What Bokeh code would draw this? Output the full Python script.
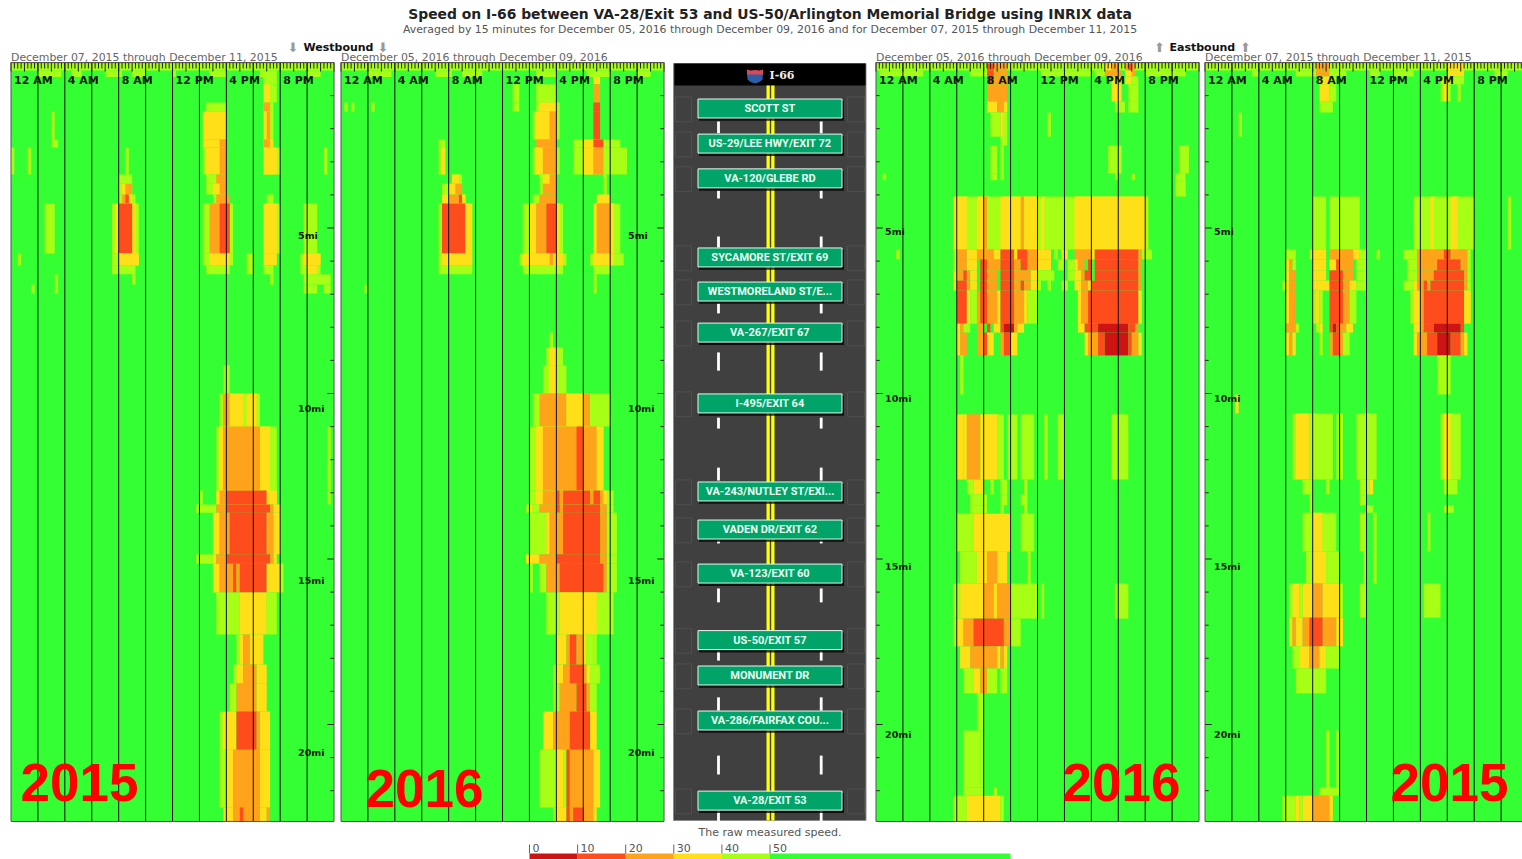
from bokeh.plotting import figure
from bokeh.models import Range1d
from bokeh.core.properties import value
from bokeh.embed import file_html
from bokeh.resources import INLINE

TITLE = "Speed on I-66 between VA-28/Exit 53 and US-50/Arlington Memorial Bridge using INRIX data"
SUBTITLE = "Averaged by 15 minutes for December 05, 2016 through December 09, 2016 and for December 07, 2015 through December 11, 2015"
HOUR_LABELS = ["12 AM", "4 AM", "8 AM", "12 PM", "4 PM", "8 PM"]
HOUR_LABEL_QUARTERS = [0, 16, 32, 48, 64, 80]
MILE_LABELS = ["5mi", "10mi", "15mi", "20mi"]
MILE_VALUES = [5, 10, 15, 20]
SIGN_NAMES = ["SCOTT ST", "US-29/LEE HWY/EXIT 72", "VA-120/GLEBE RD", "SYCAMORE ST/EXIT 69",
              "WESTMORELAND ST/E...", "VA-267/EXIT 67", "I-495/EXIT 64", "VA-243/NUTLEY ST/EXI...",
              "VADEN DR/EXIT 62", "VA-123/EXIT 60", "US-50/EXIT 57", "MONUMENT DR",
              "VA-286/FAIRFAX COU...", "VA-28/EXIT 53"]
SIGN_MILES = [1.39, 2.45, 3.50, 5.89, 6.92, 8.16, 10.30, 12.96, 14.11, 15.44, 17.45, 18.52, 19.88, 22.30]
DASH_MILES = [(1.78, 2.14), (3.87, 4.11), (5.26, 5.59), (7.28, 7.58), (8.76, 9.31), (10.73, 11.06),
              (12.24, 12.63), (14.44, 14.53), (15.89, 16.31), (17.79, 18.07), (19.18, 19.58),
              (20.94, 21.51), (22.60, 22.93)]
LEGEND_EDGES = [0, 10, 20, 30, 40, 50]
LEGEND_END = 100

# speed classes (mph, class mid-values)
YG, YE, OR, RD, DK = 45, 35, 25, 15, 5

# rows: (mile from, mile to, [(first quarter-hour, last quarter-hour, speed), ...])
wb2015 = [
    (0.03, 0.24, [(0, 96, YG)]),
    (0.24, 0.44, [(8, 15, YG), (18, 21, YG), (28, 33, YG), (36, 40, YG), (48, 49, YG), (59, 64, YG), (74, 79, YG), (88, 92, YG)]),
    (0.44, 0.66, [(75, 79, YG)]),
    (0.66, 1.21, [(75, 79, YG), (75, 77, YE)]),
    (1.21, 1.48, [(58, 64, YG), (75, 78, YG), (75, 77, OR)]),
    (1.48, 2.33, [(12, 13, YG), (57, 64, YE), (75, 78, YG), (75, 77, YE), (76, 77, OR)]),
    (2.33, 2.57, [(12, 14, YG), (57, 64, YE), (62, 64, OR), (75, 78, YE), (75, 77, OR)]),
    (2.57, 3.38, [(0, 1, YG), (5, 6, YG), (34, 35, YG), (57, 59, YG), (58, 64, YE), (62, 64, OR), (75, 80, YG), (75, 79, YE), (93, 94, YG)]),
    (3.38, 3.66, [(32, 36, YG), (58, 62, YG), (61, 64, OR)]),
    (3.66, 3.99, [(32, 36, YG), (33, 36, YE), (34, 36, OR), (58, 62, YG), (60, 64, YE), (62, 64, OR)]),
    (3.99, 4.26, [(32, 37, YG), (33, 36, YE), (33, 35, OR), (34, 35, RD), (60, 62, YG), (61, 65, OR), (76, 78, YG)]),
    (4.26, 5.77, [(10, 13, YG), (30, 38, YG), (31, 37, YE), (32, 36, RD), (57, 66, YG), (59, 65, OR), (62, 65, RD), (75, 80, YG), (75, 79, YE), (87, 91, YG)]),
    (5.77, 6.13, [(2, 3, YG), (30, 38, YG), (32, 38, YE), (57, 66, YG), (59, 65, YE), (70, 72, YG), (75, 79, YE), (86, 92, YG), (87, 92, YE)]),
    (6.13, 6.40, [(30, 37, YG), (58, 65, YG), (70, 72, YG), (75, 78, YG), (86, 92, YG), (88, 91, YE)]),
    (6.40, 6.71, [(13, 14, YG), (36, 37, YG), (77, 78, YG), (87, 95, YG)]),
    (6.71, 6.98, [(6, 7, YG), (13, 14, YG), (87, 91, YG), (93, 95, YG)]),
    (9.15, 10.00, [(63, 65, YG)]),
    (10.00, 11.00, [(62, 74, YG), (63, 65, OR), (65, 69, YE), (70, 73, YE)]),
    (11.00, 12.93, [(61, 79, YG), (62, 77, YE), (63, 74, OR), (94, 95, YG)]),
    (12.93, 13.35, [(56, 57, YG), (61, 79, YG), (61, 77, YE), (62, 64, OR), (64, 76, RD), (76, 79, YE), (94, 95, YG)]),
    (13.35, 13.60, [(55, 61, YG), (61, 64, OR), (64, 77, RD), (77, 78, OR), (78, 80, YE)]),
    (13.60, 14.86, [(60, 62, YE), (62, 65, OR), (65, 76, RD), (76, 78, OR), (78, 80, YE)]),
    (14.86, 15.14, [(55, 60, YG), (60, 61, YE), (61, 64, OR), (64, 77, RD), (77, 78, OR), (78, 79, YE)]),
    (15.14, 16.01, [(60, 62, YE), (62, 66, OR), (66, 67, RD), (67, 68, OR), (68, 76, RD), (76, 80, YE), (80, 81, YG)]),
    (16.01, 17.28, [(61, 68, YG), (68, 76, YE), (76, 79, YG)]),
    (17.28, 18.19, [(67, 68, YG), (68, 69, YE), (69, 71, OR), (71, 75, YE)]),
    (18.19, 18.76, [(66, 67, YG), (67, 69, YE), (69, 73, OR), (73, 76, YE)]),
    (18.76, 19.61, [(65, 67, YG), (67, 73, OR), (73, 76, YE)]),
    (19.61, 20.76, [(62, 63, YG), (63, 67, YE), (67, 73, RD), (73, 74, OR), (74, 77, YE)]),
    (20.76, 22.51, [(62, 64, YG), (64, 66, YE), (66, 74, OR), (74, 77, YE)]),
    (22.51, 22.93, [(63, 66, YE), (66, 74, OR), (68, 69, RD), (74, 76, YE), (76, 77, OR)]),
]

wb2016 = [
    (0.03, 0.24, [(0, 96, YG)]),
    (0.24, 0.44, [(8, 15, YG), (28, 33, YG), (36, 42, YG), (58, 64, YG), (73, 80, YG), (88, 92, YG)]),
    (0.44, 0.66, [(75, 77, YE)]),
    (0.66, 1.21, [(51, 53, YG), (58, 64, YG), (75, 77, OR)]),
    (1.21, 1.48, [(1, 2, YG), (3, 4, YG), (9, 10, YG), (51, 53, YG), (58, 65, YG), (59, 64, YE), (75, 77, RD)]),
    (1.48, 2.33, [(57, 65, YG), (58, 62, YE), (62, 64, OR), (75, 77, RD)]),
    (2.33, 2.57, [(29, 31, YG), (58, 64, OR), (69, 83, YG), (72, 75, YE), (75, 78, RD)]),
    (2.57, 3.38, [(29, 31, YG), (30, 31, YE), (57, 65, YG), (58, 60, YE), (60, 64, OR), (69, 85, YG), (72, 75, YE), (75, 78, OR)]),
    (3.38, 3.66, [(33, 36, YG), (33, 35, YE), (59, 64, YG), (60, 62, YE), (62, 64, OR), (78, 79, YG)]),
    (3.66, 3.99, [(30, 36, YG), (32, 34, YE), (34, 36, OR), (59, 60, YG), (60, 64, OR), (78, 79, YG)]),
    (3.99, 4.26, [(30, 37, YG), (30, 32, YE), (32, 35, OR), (35, 36, RD), (36, 37, YE), (57, 59, YG), (59, 64, OR), (76, 80, YE)]),
    (4.26, 5.77, [(29, 39, YG), (30, 37, RD), (37, 39, YE), (54, 66, YG), (56, 58, YE), (58, 61, OR), (61, 64, RD), (64, 65, YE), (75, 83, YG), (75, 76, YE), (76, 80, OR), (80, 81, YE)]),
    (5.77, 6.13, [(29, 39, YG), (30, 39, YE), (53, 67, YG), (54, 66, YE), (62, 63, OR), (74, 84, YG), (75, 81, YE)]),
    (6.13, 6.40, [(29, 39, YG), (54, 66, YG), (75, 80, YG)]),
    (6.40, 6.71, [(75, 76, YG)]),
    (6.71, 6.98, [(7, 8, YG), (75, 76, YG)]),
    (8.16, 8.61, [(62, 63, YG)]),
    (8.61, 9.15, [(61, 66, YG), (62, 64, YE)]),
    (9.15, 10.00, [(60, 67, YG), (62, 64, YE)]),
    (10.00, 11.00, [(57, 80, YG), (59, 67, OR), (67, 72, YE), (72, 74, OR)]),
    (11.00, 12.93, [(56, 78, YG), (58, 76, YE), (60, 76, OR), (70, 72, RD), (76, 78, YE)]),
    (12.93, 13.35, [(56, 81, YG), (58, 60, YE), (60, 64, OR), (64, 65, RD), (65, 66, OR), (66, 74, RD), (74, 75, OR), (75, 77, RD), (77, 78, OR), (78, 79, YE)]),
    (13.35, 13.60, [(55, 56, YG), (56, 57, YE), (57, 59, YG), (59, 64, OR), (64, 65, RD), (65, 66, OR), (66, 77, RD), (77, 79, OR), (79, 81, YG)]),
    (13.60, 14.86, [(56, 61, YG), (61, 62, YE), (62, 66, OR), (66, 77, RD), (77, 79, OR), (79, 82, YG)]),
    (14.86, 15.14, [(55, 59, YE), (59, 64, OR), (64, 77, RD), (77, 79, OR), (79, 82, YG)]),
    (15.14, 16.01, [(56, 57, YG), (59, 61, YG), (61, 65, OR), (65, 78, RD), (78, 79, OR), (79, 82, YG)]),
    (16.01, 17.28, [(61, 81, YG), (65, 76, YE)]),
    (17.28, 18.19, [(64, 67, YE), (67, 68, OR), (68, 70, RD), (70, 72, OR), (72, 73, YE), (73, 75, YG), (75, 76, YG)]),
    (18.19, 18.76, [(63, 64, YG), (64, 66, YE), (66, 68, OR), (68, 72, RD), (72, 73, OR), (73, 74, YE), (74, 77, YG)]),
    (18.76, 19.61, [(63, 65, YG), (65, 70, OR), (70, 73, RD), (73, 74, OR), (74, 76, YG)]),
    (19.61, 20.76, [(60, 63, YE), (63, 68, OR), (68, 74, RD), (74, 76, YE)]),
    (20.76, 22.51, [(59, 66, YG), (64, 66, YE), (66, 67, YG), (67, 68, RD), (68, 75, OR), (75, 77, YE)]),
    (22.51, 22.93, [(63, 64, YG), (64, 67, YE), (67, 68, RD), (68, 69, OR), (69, 72, RD), (72, 75, OR), (75, 76, YE)]),
]

eb2016 = [
    (0.03, 0.24, [(0, 96, YG), (33, 39, OR), (33, 35, RD), (68, 71, YE), (70, 72, OR), (74, 77, OR), (75, 76, RD)]),
    (0.24, 0.42, [(1, 14, YG), (28, 33, YG), (33, 35, RD), (35, 39, OR), (49, 64, YG), (65, 68, YG), (68, 73, OR), (74, 77, YE), (76, 77, OR), (80, 92, YG)]),
    (0.42, 0.66, [(33, 35, RD), (35, 39, OR), (70, 73, YE), (74, 76, YE), (76, 78, YG)]),
    (0.66, 1.18, [(33, 39, OR), (70, 73, YE), (75, 78, YG)]),
    (1.18, 1.51, [(33, 36, YE), (36, 38, OR), (38, 39, YE), (71, 74, YG), (75, 78, YG)]),
    (1.51, 2.24, [(34, 37, YG), (37, 38, YE), (38, 39, YG), (51, 52, YG)]),
    (2.24, 2.51, [(37, 39, YG)]),
    (2.51, 3.35, [(34, 36, YG), (37, 38, YG), (69, 73, YG), (90, 93, YG)]),
    (3.35, 3.56, [(2, 3, YG), (34, 36, YG), (37, 38, YG), (71, 72, YG), (76, 77, YG), (89, 92, YG)]),
    (3.56, 4.05, [(89, 92, YG), (91, 92, YG)]),
    (4.05, 5.65, [(23, 81, YG), (23, 27, YE), (30, 33, YE), (32, 33, OR), (37, 43, YE), (43, 44, OR), (44, 48, YE), (49, 50, YE), (59, 80, YE)]),
    (5.65, 5.95, [(6, 7, YG), (23, 24, YG), (24, 27, OR), (27, 30, YE), (30, 35, OR), (35, 37, YE), (37, 41, RD), (41, 42, YE), (42, 45, RD), (45, 48, OR), (48, 52, YE), (53, 54, YG), (55, 57, YE), (59, 64, OR), (64, 65, YE), (65, 78, RD), (78, 79, OR), (79, 82, YG)]),
    (5.95, 6.28, [(23, 24, YG), (24, 27, OR), (27, 30, YE), (31, 33, RD), (33, 37, OR), (37, 41, RD), (41, 43, OR), (43, 45, RD), (45, 48, OR), (48, 52, YE), (54, 56, YG), (57, 59, YG), (59, 60, YE), (60, 62, OR), (63, 64, RD), (65, 78, RD), (78, 79, OR)]),
    (6.28, 6.59, [(23, 24, YE), (24, 26, OR), (26, 27, RD), (27, 28, OR), (28, 30, YE), (31, 33, RD), (33, 36, OR), (37, 41, RD), (41, 44, OR), (44, 46, OR), (46, 48, YE), (48, 53, YG), (57, 59, YG), (59, 61, YE), (61, 62, OR), (62, 64, RD), (65, 78, RD), (78, 79, OR)]),
    (6.59, 6.89, [(23, 24, YE), (24, 27, RD), (27, 28, OR), (28, 30, YE), (31, 33, RD), (33, 36, OR), (37, 41, RD), (41, 43, OR), (43, 44, RD), (44, 46, OR), (46, 48, YE), (48, 49, YG), (51, 52, YG), (55, 57, YG), (59, 61, YE), (61, 63, OR), (63, 64, YE), (64, 78, RD), (78, 79, OR)]),
    (6.89, 7.89, [(24, 27, RD), (27, 28, YE), (28, 30, YG), (30, 31, OR), (31, 33, RD), (33, 36, OR), (36, 37, YE), (37, 41, RD), (41, 44, OR), (44, 45, YE), (45, 48, YG), (60, 61, YE), (61, 63, OR), (63, 64, RD), (64, 78, RD), (78, 79, YE)]),
    (7.89, 8.16, [(24, 25, YE), (25, 26, OR), (26, 28, YG), (30, 32, OR), (33, 34, RD), (35, 37, YE), (37, 38, RD), (38, 41, DK), (41, 42, OR), (42, 44, YE), (60, 62, YE), (62, 66, RD), (66, 75, DK), (75, 77, RD), (77, 78, OR)]),
    (8.16, 8.85, [(24, 25, YE), (25, 27, OR), (30, 32, OR), (32, 33, RD), (33, 35, YE), (37, 38, OR), (38, 40, RD), (40, 42, YE), (62, 63, YE), (63, 66, OR), (66, 68, RD), (68, 75, DK), (75, 76, RD), (76, 78, OR), (78, 79, YE)]),
    (8.85, 10.03, [(25, 26, YG)]),
    (10.63, 12.60, [(24, 26, YE), (26, 27, YE), (27, 31, OR), (31, 36, YE), (36, 38, YG), (39, 42, YG), (43, 47, YG), (50, 51, YG), (54, 56, YG), (70, 75, YG)]),
    (12.60, 13.05, [(27, 29, YG), (29, 32, YE), (34, 35, YG), (37, 39, YG), (44, 45, YG)]),
    (13.05, 13.38, [(28, 33, YG), (37, 39, YG), (43, 45, YG)]),
    (13.38, 13.63, [(28, 33, YG), (37, 38, YG), (44, 45, YG)]),
    (13.63, 14.77, [(24, 29, YG), (29, 40, YE), (43, 47, YG)]),
    (14.77, 15.74, [(25, 30, YG), (30, 33, YE), (33, 36, OR), (36, 39, YE), (45, 46, YG)]),
    (15.74, 16.80, [(23, 25, YG), (25, 32, YE), (32, 35, OR), (35, 36, YE), (36, 40, OR), (40, 48, YG), (49, 50, YG), (71, 75, YG)]),
    (16.80, 17.64, [(23, 24, YG), (24, 26, YE), (26, 29, OR), (29, 38, RD), (38, 40, OR), (40, 43, YG)]),
    (17.64, 18.31, [(25, 28, YE), (28, 36, OR), (36, 37, YE), (37, 38, OR), (38, 39, YE)]),
    (18.31, 19.06, [(26, 29, YG), (29, 31, YE), (31, 33, OR), (33, 36, YG), (37, 39, YG)]),
    (19.06, 20.18, [(30, 32, YG)]),
    (20.18, 21.90, [(26, 31, YG), (31, 32, YG)]),
    (21.90, 22.15, [(26, 32, YG), (35, 36, YG)]),
    (22.15, 22.93, [(23, 27, YG), (27, 37, YE), (37, 38, YG)]),
]

eb2015 = [
    (0.03, 0.24, [(0, 96, YG), (33, 37, OR), (72, 77, YE)]),
    (0.24, 0.42, [(14, 16, YG), (27, 33, YG), (33, 37, OR), (37, 42, YG), (49, 52, YG), (56, 60, YG), (60, 62, YG), (72, 77, YE), (86, 90, YG)]),
    (0.42, 0.66, [(34, 37, YE), (37, 39, YG), (70, 77, YG), (71, 73, YE)]),
    (0.66, 1.18, [(34, 37, YE), (37, 39, YG), (70, 73, YG), (71, 72, YE), (75, 76, YG)]),
    (1.18, 1.51, [(34, 38, YG)]),
    (1.51, 2.24, [(10, 11, YG)]),
    (4.05, 5.65, [(32, 36, YG), (37, 46, YG), (62, 80, YG), (67, 68, YE), (73, 75, YE), (90, 91, YG)]),
    (5.65, 5.95, [(24, 27, YG), (31, 32, YG), (32, 36, YE), (37, 44, OR), (44, 46, YE), (46, 48, YG), (51, 52, YG), (59, 63, YG), (63, 71, OR), (71, 73, RD), (73, 78, OR), (78, 79, YG)]),
    (5.95, 6.28, [(24, 25, YE), (25, 26, OR), (26, 27, YG), (32, 36, YE), (37, 39, YE), (39, 44, OR), (39, 40, RD), (45, 48, YG), (60, 63, YG), (63, 69, OR), (69, 76, RD), (76, 78, OR), (78, 79, YG)]),
    (6.28, 6.59, [(24, 25, YE), (25, 27, OR), (32, 36, YE), (37, 41, RD), (41, 44, OR), (45, 48, YG), (60, 63, YG), (63, 68, OR), (68, 77, RD), (77, 78, OR), (78, 79, YG)]),
    (6.59, 6.89, [(23, 24, YG), (24, 25, YE), (25, 27, OR), (32, 37, YE), (37, 41, RD), (41, 43, OR), (43, 45, YE), (45, 48, YG), (59, 62, YG), (62, 63, YE), (63, 65, OR), (65, 66, RD), (66, 67, OR), (67, 77, RD), (77, 78, OR), (78, 79, YG)]),
    (6.89, 7.89, [(24, 25, YE), (25, 27, OR), (32, 33, YG), (33, 34, YE), (34, 35, YG), (37, 41, RD), (41, 43, OR), (43, 45, YG), (61, 62, YG), (62, 64, YE), (64, 65, OR), (65, 77, RD), (77, 79, YE)]),
    (7.89, 8.16, [(24, 27, OR), (27, 28, YG), (33, 34, YG), (34, 35, YE), (37, 38, RD), (38, 39, DK), (39, 40, RD), (40, 42, OR), (42, 44, YE), (62, 64, YE), (64, 65, OR), (65, 68, RD), (68, 76, DK), (76, 77, RD)]),
    (8.16, 8.85, [(24, 25, YE), (25, 26, OR), (26, 27, YE), (34, 35, YG), (37, 38, OR), (38, 40, RD), (40, 41, OR), (41, 43, YG), (62, 63, YE), (63, 66, OR), (66, 69, RD), (69, 73, DK), (73, 76, RD), (76, 77, OR), (77, 78, YE)]),
    (8.85, 10.03, [(69, 73, YG)]),
    (10.03, 10.60, [(9, 10, YE)]),
    (10.60, 12.60, [(26, 27, YG), (27, 31, YE), (31, 38, YG), (39, 41, YG), (45, 51, YG), (70, 76, YG), (71, 73, YE)]),
    (12.60, 13.05, [(29, 32, YG), (36, 37, YG), (46, 49, YG), (49, 50, YE), (71, 75, YG)]),
    (13.05, 13.38, [(31, 32, YG), (46, 48, YG)]),
    (13.38, 13.60, [(31, 32, YG), (48, 50, YG), (71, 74, YG)]),
    (13.60, 14.77, [(29, 32, YG), (32, 35, YE), (35, 39, YG), (46, 48, YG), (50, 51, YG), (66, 67, YG)]),
    (14.77, 15.74, [(30, 32, YG), (32, 36, YE), (36, 40, YG), (47, 48, YG), (50, 51, YG)]),
    (15.74, 16.77, [(25, 26, YG), (26, 28, YE), (28, 29, YG), (29, 32, YE), (32, 35, OR), (35, 40, YE), (40, 41, YG), (46, 48, YG), (65, 70, YG)]),
    (16.77, 17.64, [(25, 26, YE), (26, 27, OR), (27, 29, YE), (29, 31, OR), (31, 35, RD), (35, 39, OR), (39, 41, YE)]),
    (17.64, 18.31, [(26, 28, YG), (28, 31, YE), (31, 34, OR), (34, 36, YE), (36, 40, YG)]),
    (18.31, 19.06, [(27, 36, YG)]),
    (20.18, 21.90, [(36, 37, YG), (39, 40, YG)]),
    (21.90, 22.15, [(34, 40, YG)]),
    (22.15, 22.93, [(23, 27, YG), (27, 28, YE), (28, 29, YG), (29, 32, YE), (32, 37, OR), (37, 38, YE)]),
]

GREEN = "#33ff33"
COLORS = {YG: "#a6ff14", YE: "#ffdf17", OR: "#ffa31a", RD: "#ff4c1c", DK: "#cc1414"}
SERIF = value("DejaVu Serif")
SANS = value("DejaVu Sans")
QPX, MPX = 3.365, 33.1  # pixels per quarter hour / per mile
W, H = 1522, 859
TOP = 62

p = figure(width=W, height=H, output_backend="svg", toolbar_location=None,
           x_range=Range1d(0, W), y_range=Range1d(H, 0), min_border=0)
p.axis.visible = False
p.grid.visible = False
p.outline_line_color = None
p.background_fill_color = "white"
p.border_fill_color = "white"

p.extra_y_ranges["miles"] = Range1d((H - TOP) / MPX, (0 - TOP) / MPX)
p.extra_x_ranges["speed"] = Range1d((0 - 529) / 4.81, (W - 529) / 4.81)


def label(x, y, txt, size, color="#000000", style="normal", font=SANS, align="left", base="middle", xr="default", yr="default", **kw):
    p.text([x], [y], text=[txt], text_font_size=f"{size}px", text_color=color, text_font_style=style,
           text_font=font, text_align=align, text_baseline=base, x_range_name=xr, y_range_name=yr, **kw)


BOTTOM_MILE = 22.93


def panel(name, x0, rows, side, mile_offsets, date):
    p.extra_x_ranges[name] = Range1d((0 - x0) / QPX, (W - x0) / QPX)
    kw = dict(x_range_name=name, y_range_name="miles")
    p.quad(left=[0], right=[96], top=[0], bottom=[BOTTOM_MILE], fill_color=GREEN, line_color=None, **kw)
    l, r, t, b, c = [], [], [], [], []
    for m0, m1, runs in rows:
        for q0, q1, s in runs:
            l.append(q0); r.append(q1); t.append(m0); b.append(m1); c.append(COLORS[s])
    p.quad(left=l, right=r, top=t, bottom=b, fill_color=c, line_color=None, **kw)
    # 2-hour grid lines
    qs = list(range(8, 96, 8))
    p.segment(x0=qs, x1=qs, y0=[0] * len(qs), y1=[BOTTOM_MILE] * len(qs), line_color="#111111", line_width=1, **kw)
    # top ticks in screen pixels
    qt = list(range(0, 97))
    p.segment(x0=qt, x1=qt, y0=[0] * len(qt), y1=[(9 if q % 4 == 0 else 6) / MPX for q in qt],
              line_color="#222222", line_width=1, **kw)
    # mile ticks
    xe = 96 if side == "right" else 0
    sgn = -1 if side == "right" else 1
    ms = list(range(1, 23))
    p.segment(x0=[xe] * len(ms), x1=[xe + sgn * (2 if m % 5 == 0 else 1.1) for m in ms], y0=ms, y1=ms,
              line_color="#222222", line_width=1, **kw)
    p.quad(left=[0], right=[96], top=[0], bottom=[BOTTOM_MILE], fill_color=None, line_color="#555555", line_width=1, **kw)
    for lab, q in zip(HOUR_LABELS, HOUR_LABEL_QUARTERS):
        label(q, 0.55, lab, 11, color="#0a1a0a", style="bold", xr=name, yr="miles", x_offset=3)
    for lab, m, off in zip(MILE_LABELS, MILE_VALUES, mile_offsets):
        q = 85.3 if side == "right" else 2.7
        label(q, m, lab, 9.5, color="#0a1a0a", style="bold", xr=name, yr="miles", y_offset=off - 0.5)
    label(0, -0.16, date, 10.9, color="#666666", xr=name, yr="miles", base="middle")


panel("wb15", 10.5, wb2015, "right", [7.5, 15, 21.5, 28], "December 07, 2015 through December 11, 2015")
panel("wb16", 340.5, wb2016, "right", [7.5, 15, 21.5, 28], "December 05, 2016 through December 09, 2016")
panel("eb16", 875.5, eb2016, "left", [3.5, 5, 7.5, 10], "December 05, 2016 through December 09, 2016")
panel("eb15", 1204.5, eb2015, "left", [3.5, 5, 7.5, 10], "December 07, 2015 through December 11, 2015")

# road panel
p.quad(left=[673], right=[865.5], top=[63], bottom=[820], fill_color="#404040", line_color="#8a8a8a", line_width=1)
p.quad(left=[674], right=[865], top=[63], bottom=[85], fill_color="#000000", line_color=None)
p.quad(left=[766, 770.7], right=[769.3, 774], top=[85, 85], bottom=[820, 820], fill_color="#ffff00", line_color=None)
for xd in (718, 820.7):
    p.quad(left=[xd - 1.4] * len(DASH_MILES), right=[xd + 1.4] * len(DASH_MILES),
           top=[d[0] for d in DASH_MILES], bottom=[d[1] for d in DASH_MILES],
           y_range_name="miles", fill_color="#ffffff", line_color=None)
# faint ramps
for m in SIGN_MILES:
    p.quad(left=[675, 847], right=[691, 864], top=[m - 0.35, m - 0.35], bottom=[m + 0.4, m + 0.4],
           y_range_name="miles", fill_color=None, line_color="#4e4e4e", line_width=1)
p.rect(x=[771] * len(SIGN_MILES), y=[m + 0.07 for m in SIGN_MILES], width=145, height=20, width_units="screen",
       height_units="screen", y_range_name="miles", fill_color="#000000", fill_alpha=0.75, line_color=None)
p.rect(x=[769.5] * len(SIGN_MILES), y=SIGN_MILES, width=144, height=19, width_units="screen",
       height_units="screen", y_range_name="miles", fill_color="#00a468", line_color="#e8f5ee", line_width=1)
p.text(x=[769.5] * len(SIGN_MILES), y=SIGN_MILES, text=SIGN_NAMES, y_range_name="miles",
       text_font=value("Roboto"), text_font_style="bold", text_font_size="11px",
       text_color="#eafff4", text_align="center", text_baseline="middle")
# shield
p.patch(x=[746.5, 762.5, 762, 759, 754.5, 750, 747], y=[73, 73, 79, 81.5, 83, 81.5, 79], fill_color="#2a5fa8", line_color=None)
p.patch(x=[746.5, 750, 754.5, 759, 762.5, 762.5, 746.5], y=[69, 70, 69.5, 70, 69, 74, 74], fill_color="#d8485a", line_color=None)
label(769, 74.5, "I-66", 11, color="#eeeeee", style="bold", font=SERIF)

# texts
label(769.5, 13, TITLE, 13.9, color="#222222", style="bold", align="center")
label(769.5, 29, SUBTITLE, 10.9, color="#555555", align="center")
label(303, 46.5, "Westbound", 11, color="#111111", style="bold")
label(1169, 46.5, "Eastbound", 11, color="#111111", style="bold")
for x, arrow in [(292.5, "\u2b07"), (382.5, "\u2b07"), (1159, "\u2b06"), (1245, "\u2b06")]:
    label(x, 46.5, arrow, 13, color="#999999", align="center")
label(769.5, 831.5, "The raw measured speed.", 11, color="#555555", align="center")

# year labels
big = value("Liberation Sans")
for x, y, t in [(20, 782, "2015"), (365, 788, "2016"), (1062, 782, "2016"), (1390, 782, "2015")]:
    label(x, y, t, 53, color="#ff0000", style="bold", font=big)

# legend
lev = [(e, (LEGEND_EDGES[i + 1] if i + 1 < len(LEGEND_EDGES) else LEGEND_END)) for i, e in enumerate(LEGEND_EDGES)]
cols = [COLORS[DK], COLORS[RD], COLORS[OR], COLORS[YE], COLORS[YG], GREEN]
p.quad(left=[a for a, _ in lev], right=[b for _, b in lev], top=[853] * 6, bottom=[859.5] * 6, fill_color=cols,
       line_color=None, x_range_name="speed")
p.segment(x0=LEGEND_EDGES, x1=LEGEND_EDGES, y0=[844] * 6, y1=[853] * 6, line_color="#666666", x_range_name="speed")
p.text(x=LEGEND_EDGES, y=[847.5] * 6, text=[str(e) for e in LEGEND_EDGES], x_range_name="speed", text_font=SANS,
       text_font_size="11px", text_color="#555555", text_baseline="middle", x_offset=3)

open("out.html", "w").write(file_html(p, INLINE))
